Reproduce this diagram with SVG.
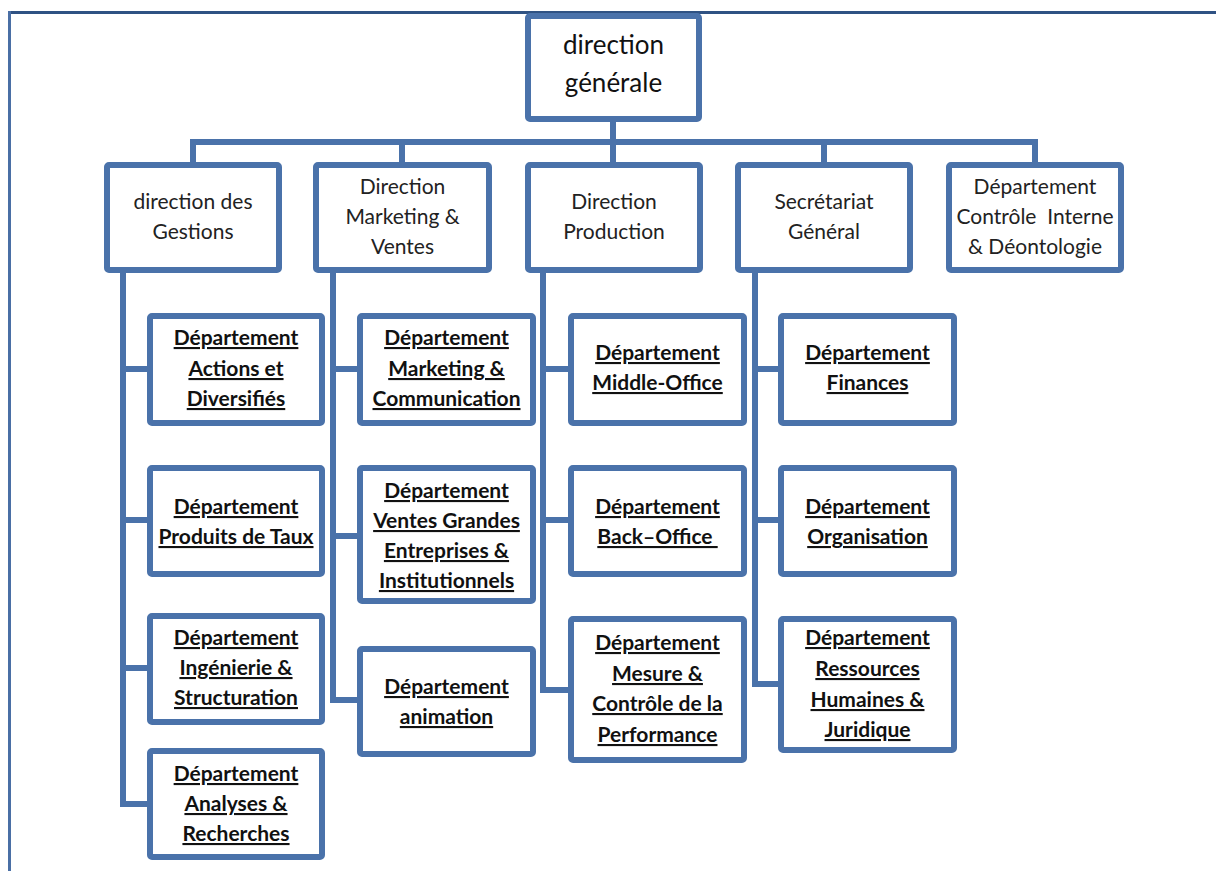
<svg xmlns="http://www.w3.org/2000/svg" width="1216" height="871" viewBox="0 0 1216 871">
<style>
.bg{fill:#ffffff}
.box{fill:#ffffff;stroke:#4a72aa;stroke-width:6}
.con{fill:none;stroke:#4a72aa;stroke-width:6;stroke-linejoin:miter}
.frame{fill:none;stroke:#2f5283;stroke-width:3}
.frameL{fill:none;stroke:#4a6fa5;stroke-width:3}
.t1{font-family:Lato,"Liberation Sans",sans-serif;font-size:26px;fill:#111;text-anchor:middle}
.t2{font-family:Lato,"Liberation Sans",sans-serif;font-size:21px;fill:#222;text-anchor:middle}
.t3{font-family:Lato,"Liberation Sans",sans-serif;font-size:21px;font-weight:bold;fill:#111;text-anchor:middle;text-decoration:underline;text-decoration-thickness:2px}
</style>
<rect class="bg" x="0" y="0" width="1216" height="871"/>
<g id="frame">
<line class="frame" x1="8" y1="12.5" x2="1216" y2="12.5"/>
<line class="frameL" x1="9.5" y1="11" x2="9.5" y2="871"/>
</g>
<g id="connectors">
<path class="con" d="M613,122 V142"/>
<path class="con" d="M193,165 V142 H1035 V165"/>
<path class="con" d="M402,142 V165 M824,142 V165 M613,142 V165"/>
<path class="con" d="M123,273 V804 H147 M123,369 H147 M123,520 H147 M123,668 H147"/>
<path class="con" d="M333,273 V700 H357 M333,369 H357 M333,536 H357"/>
<path class="con" d="M543,273 V690 H568 M543,369 H568 M543,520 H568"/>
<path class="con" d="M755,273 V684 H778 M755,369 H778 M755,520 H778"/>
</g>
<g id="n-dg">
<rect class="box" x="528" y="16" width="171" height="103" rx="2"/>
<text class="t1" x="613.5" y="54">direction</text>
<text class="t1" x="613.5" y="92">générale</text>
</g>
<g id="n-gestions">
<rect class="box" x="107" y="165" width="172" height="105" rx="2"/>
<text class="t2" x="193" y="209">direction des</text>
<text class="t2" x="193" y="239">Gestions</text>
</g>
<g id="n-marketing">
<rect class="box" x="316" y="165" width="173" height="105" rx="2"/>
<text class="t2" x="402.5" y="194">Direction</text>
<text class="t2" x="402.5" y="224">Marketing &amp;</text>
<text class="t2" x="402.5" y="254">Ventes</text>
</g>
<g id="n-production">
<rect class="box" x="528" y="165" width="172" height="105" rx="2"/>
<text class="t2" x="614" y="209">Direction</text>
<text class="t2" x="614" y="239">Production</text>
</g>
<g id="n-secretariat">
<rect class="box" x="738" y="165" width="172" height="105" rx="2"/>
<text class="t2" x="824" y="209">Secrétariat</text>
<text class="t2" x="824" y="239">Général</text>
</g>
<g id="n-controle">
<rect class="box" x="949" y="165" width="172" height="105" rx="2"/>
<text class="t2" x="1035" y="194">Département</text>
<text class="t2" x="1035" y="224">Contrôle&#160; Interne</text>
<text class="t2" x="1035" y="254">&amp; Déontologie</text>
</g>
<g id="n-actions">
<rect class="box" x="150" y="316" width="172" height="107" rx="2"/>
<text class="t3" x="236" y="345">Département</text>
<text class="t3" x="236" y="376">Actions et</text>
<text class="t3" x="236" y="406">Diversifiés</text>
</g>
<g id="n-taux">
<rect class="box" x="150" y="468" width="172" height="106" rx="2"/>
<text class="t3" x="236" y="514">Département</text>
<text class="t3" x="236" y="544">Produits de Taux</text>
</g>
<g id="n-ingenierie">
<rect class="box" x="150" y="616" width="172" height="106" rx="2"/>
<text class="t3" x="236" y="645">Département</text>
<text class="t3" x="236" y="675">Ingénierie &amp;</text>
<text class="t3" x="236" y="705">Structuration</text>
</g>
<g id="n-analyses">
<rect class="box" x="150" y="751" width="172" height="106" rx="2"/>
<text class="t3" x="236" y="781">Département</text>
<text class="t3" x="236" y="811">Analyses &amp;</text>
<text class="t3" x="236" y="841">Recherches</text>
</g>
<g id="n-mkcom">
<rect class="box" x="360" y="316" width="173" height="107" rx="2"/>
<text class="t3" x="446.5" y="345">Département</text>
<text class="t3" x="446.5" y="376">Marketing &amp;</text>
<text class="t3" x="446.5" y="406">Communication</text>
</g>
<g id="n-ventes">
<rect class="box" x="360" y="468" width="173" height="133" rx="2"/>
<text class="t3" x="446.5" y="498">Département</text>
<text class="t3" x="446.5" y="528">Ventes Grandes</text>
<text class="t3" x="446.5" y="558">Entreprises &amp;</text>
<text class="t3" x="446.5" y="588">Institutionnels</text>
</g>
<g id="n-animation">
<rect class="box" x="360" y="649" width="173" height="105" rx="2"/>
<text class="t3" x="446.5" y="694">Département</text>
<text class="t3" x="446.5" y="724">animation</text>
</g>
<g id="n-middle">
<rect class="box" x="571" y="316" width="173" height="107" rx="2"/>
<text class="t3" x="657.5" y="360">Département</text>
<text class="t3" x="657.5" y="390">Middle-Office</text>
</g>
<g id="n-back">
<rect class="box" x="571" y="468" width="173" height="106" rx="2"/>
<text class="t3" x="657.5" y="514">Département</text>
<text class="t3" x="657.5" y="544" xml:space="preserve">Back–Office </text>
</g>
<g id="n-mesure">
<rect class="box" x="571" y="619" width="173" height="141" rx="2"/>
<text class="t3" x="657.5" y="650">Département</text>
<text class="t3" x="657.5" y="681">Mesure &amp;</text>
<text class="t3" x="657.5" y="711">Contrôle de la</text>
<text class="t3" x="657.5" y="742">Performance</text>
</g>
<g id="n-finances">
<rect class="box" x="781" y="316" width="173" height="107" rx="2"/>
<text class="t3" x="867.5" y="360">Département</text>
<text class="t3" x="867.5" y="390">Finances</text>
</g>
<g id="n-organisation">
<rect class="box" x="781" y="468" width="173" height="106" rx="2"/>
<text class="t3" x="867.5" y="514">Département</text>
<text class="t3" x="867.5" y="544">Organisation</text>
</g>
<g id="n-rh">
<rect class="box" x="781" y="619" width="173" height="131" rx="2"/>
<text class="t3" x="867.5" y="645">Département</text>
<text class="t3" x="867.5" y="676">Ressources</text>
<text class="t3" x="867.5" y="707">Humaines &amp;</text>
<text class="t3" x="867.5" y="737">Juridique</text>
</g>
</svg>
